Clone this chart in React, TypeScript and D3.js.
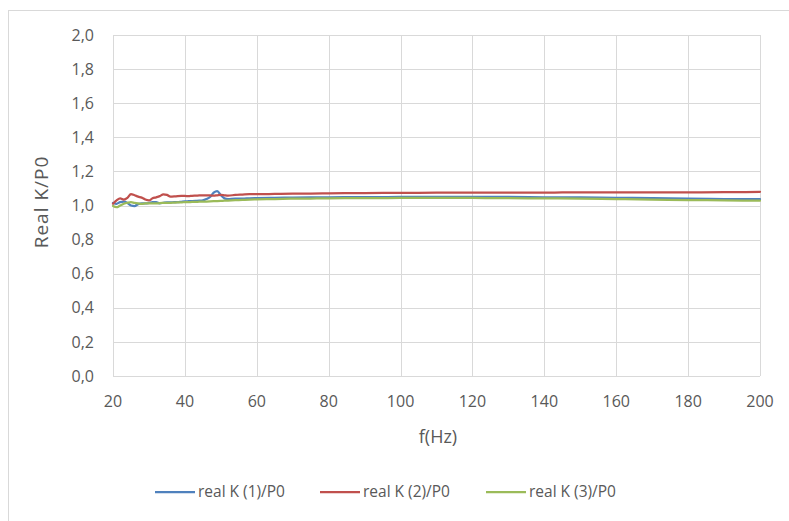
import React from "react";
import * as d3 from "d3";

const freqs = [20, 21, 22, 23, 24, 25, 26, 27, 28, 29, 30, 31, 32, 33, 34, 35, 36, 37, 38, 39, 40, 41, 42, 43, 44, 45, 46, 47, 48, 49, 50, 51, 52, 54, 56, 58, 60, 65, 70, 75, 80, 90, 100, 110, 120, 130, 140, 150, 160, 170, 180, 190, 200];
const k1 = [1.015, 1.01, 1.02, 1.022, 1.015, 1.0, 0.997, 1.008, 1.013, 1.012, 1.015, 1.02, 1.02, 1.013, 1.016, 1.018, 1.018, 1.02, 1.02, 1.022, 1.024, 1.025, 1.026, 1.027, 1.028, 1.03, 1.038, 1.05, 1.075, 1.085, 1.06, 1.042, 1.038, 1.04, 1.04, 1.042, 1.043, 1.045, 1.046, 1.047, 1.048, 1.049, 1.05, 1.05, 1.05, 1.05, 1.048, 1.047, 1.045, 1.043, 1.04, 1.038, 1.037];
const k2 = [1.01, 1.03, 1.042, 1.035, 1.045, 1.067, 1.06, 1.052, 1.046, 1.035, 1.03, 1.042, 1.048, 1.055, 1.065, 1.062, 1.052, 1.053, 1.055, 1.056, 1.056, 1.055, 1.057, 1.058, 1.059, 1.06, 1.06, 1.059, 1.058, 1.06, 1.062, 1.06, 1.058, 1.062, 1.064, 1.066, 1.066, 1.068, 1.07, 1.07, 1.071, 1.073, 1.074, 1.075, 1.076, 1.076, 1.076, 1.077, 1.077, 1.077, 1.077, 1.078, 1.08];
const k3 = [0.997, 0.99, 1.0, 1.01, 1.016, 1.02, 1.015, 1.012, 1.01, 1.012, 1.013, 1.013, 1.012, 1.014, 1.015, 1.016, 1.016, 1.017, 1.018, 1.018, 1.02, 1.02, 1.021, 1.021, 1.022, 1.022, 1.023, 1.024, 1.025, 1.026, 1.027, 1.028, 1.029, 1.031, 1.033, 1.035, 1.036, 1.038, 1.04, 1.041, 1.042, 1.043, 1.044, 1.044, 1.044, 1.043, 1.042, 1.04, 1.038, 1.035, 1.032, 1.03, 1.028];

const seriesNames = ["real K (1)/P0", "real K (2)/P0", "real K (3)/P0"];
const seriesColors = ["#4F81BD", "#C0504D", "#9BBB59"];
const xTicks = [20, 40, 60, 80, 100, 120, 140, 160, 180, 200];
const yTicks = [0, 0.2, 0.4, 0.6, 0.8, 1.0, 1.2, 1.4, 1.6, 1.8, 2.0];

const W = 789;
const H = 521;
const left = 113;
const right = 760;
const top = 35;
const bottom = 376;

export default function App() {
  const x = d3.scaleLinear().domain([20, 200]).range([left, right]);
  const y = d3.scaleLinear().domain([0, 2]).range([bottom, top]);
  const seriesValues = [k1, k2, k3];
  const line = d3
    .line<[number, number]>()
    .x((d) => x(d[0]))
    .y((d) => y(d[1]))
    .curve(d3.curveMonotoneX);
  const font = "'Open Sans', 'Noto Sans', sans-serif";
  const legendX = [155, 320, 486];
  return (
    <div style={{ position: "absolute", left: 0, top: 0 }}>
      <svg width={W} height={H} style={{ display: "block", background: "#fff" }}>
        <rect x={8.5} y={10.5} width={W + 10} height={H + 10} fill="#fff" stroke="#D9D9D9" strokeWidth={1} />
        {yTicks.map((t) => (
          <line key={"gy" + t} x1={left} x2={right} y1={Math.round(y(t)) + 0.5} y2={Math.round(y(t)) + 0.5} stroke="#D9D9D9" strokeWidth={1} />
        ))}
        {xTicks.map((t) => (
          <line key={"gx" + t} x1={Math.round(x(t)) + 0.5} x2={Math.round(x(t)) + 0.5} y1={top} y2={bottom} stroke="#D9D9D9" strokeWidth={1} />
        ))}
        {yTicks.map((t) => (
          <text key={"ty" + t} x={94} y={y(t)} dy="0.35em" textAnchor="end" fontFamily={font} fontSize={16} fill="#595959">
            {t.toFixed(1).replace(".", ",")}
          </text>
        ))}
        {xTicks.map((t) => (
          <text key={"tx" + t} x={x(t)} y={401} dy="0.35em" textAnchor="middle" fontFamily={font} fontSize={16} fill="#595959">
            {t}
          </text>
        ))}
        {seriesValues.map((vals, i) => (
          <path
            key={"s" + i}
            d={line(freqs.map((f, j) => [f, vals[j]] as [number, number])) || ""}
            fill="none"
            stroke={seriesColors[i]}
            strokeWidth={2.25}
            strokeLinejoin="round"
            strokeLinecap="round"
          />
        ))}
        <text x={438} y={437} dy="0.35em" textAnchor="middle" fontFamily={font} fontSize={18} fill="#595959">
          f(Hz)
        </text>
        <text transform={`translate(41,202) rotate(-90)`} dy="0.35em" textAnchor="middle" fontFamily={font} fontSize={19} letterSpacing={1} fill="#595959">
          Real K/P0
        </text>
        {seriesNames.map((n, i) => (
          <g key={"lg" + i}>
            <line x1={legendX[i]} x2={legendX[i] + 40} y1={492} y2={492} stroke={seriesColors[i]} strokeWidth={2.25} />
            <text x={legendX[i] + 43} y={492} dy="0.35em" fontFamily={font} fontSize={15.5} fill="#595959">
              {n}
            </text>
          </g>
        ))}
      </svg>
    </div>
  );
}
